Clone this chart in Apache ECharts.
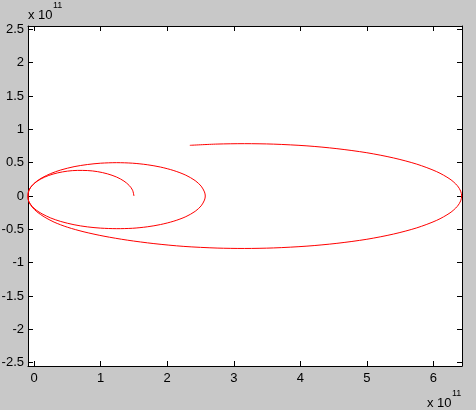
<!DOCTYPE html>
<html>
<head>
<meta charset="utf-8">
<script src="https://cdn.jsdelivr.net/npm/echarts@6/dist/echarts.min.js"></script>
<style>
html,body{margin:0;padding:0;background:#c8c8c8;}
#chart{width:476px;height:410px;}
</style>
</head>
<body>
<div id="chart"></div>
<script>
// Trajectory, in units of 1e11 (x, y pairs), in drawing order
var innerArc = [[1.50,0.00],[1.48,0.086],[1.43,0.157],[1.35,0.224],[1.24,0.284],[1.10,0.333],[0.95,0.366],[0.80,0.382],[0.65,0.384],[0.50,0.373],[0.35,0.346],[0.22,0.308],[0.10,0.255],[0.01,0.195],[-0.05,0.134],[-0.08,0.074],[-0.092,0.00]];
var middleLower = [[-0.088,-0.055],[-0.07,-0.100],[-0.03,-0.154],[0.03,-0.210],[0.12,-0.268],[0.25,-0.330],[0.40,-0.382],[0.60,-0.431],[0.80,-0.463],[1.00,-0.482],[1.24,-0.490],[1.48,-0.484],[1.70,-0.462],[1.90,-0.428],[2.10,-0.377],[2.28,-0.310],[2.42,-0.230],[2.51,-0.148],[2.56,-0.061],[2.572,0.00]];
var middleUpper = [[2.56,0.061],[2.51,0.148],[2.42,0.231],[2.28,0.312],[2.10,0.381],[1.90,0.434],[1.70,0.469],[1.48,0.492],[1.24,0.500],[1.00,0.492],[0.80,0.472],[0.60,0.440],[0.40,0.390],[0.25,0.337],[0.12,0.274],[0.03,0.214],[-0.03,0.157],[-0.07,0.102],[-0.088,0.055],[-0.092,0.00]];
var outerLower = [[-0.088,-0.056],[-0.07,-0.106],[-0.03,-0.166],[0.04,-0.236],[0.15,-0.312],[0.30,-0.392],[0.50,-0.468],[0.75,-0.538],[1.05,-0.603],[1.40,-0.662],[1.80,-0.714],[2.25,-0.756],[2.75,-0.781],[3.16,-0.787],[3.60,-0.779],[4.10,-0.752],[4.55,-0.710],[5.00,-0.649],[5.40,-0.571],[5.75,-0.478],[6.05,-0.365],[6.25,-0.253],[6.36,-0.155],[6.41,-0.073],[6.425,0.00]];
var outerUpper = [[6.41,0.073],[6.36,0.155],[6.25,0.253],[6.05,0.365],[5.75,0.478],[5.40,0.571],[5.00,0.649],[4.55,0.710],[4.10,0.752],[3.60,0.778],[3.16,0.785],[2.75,0.779],[2.34,0.760]];

var xRange = [-0.092, 6.43];
var yRange = [-2.55, 2.55];
var multiplierText = 'x 10';
var exponentText = '11';

var trajectory = [].concat(innerArc, middleLower, middleUpper, outerLower, outerUpper);

var FONT = 'Liberation Sans, Arial, sans-serif';

function isMult(v, step) {
  var r = v / step;
  return Math.abs(r - Math.round(r)) < 1e-6;
}
function fmt(v) {
  return String(Math.round(v * 100) / 100);
}

function xAxisDef(pos, showLabel) {
  return {
    type: 'value', position: pos, min: xRange[0], max: xRange[1], splitNumber: 5,
    axisLine: { show: true, onZero: false, lineStyle: { color: '#000', width: 1 } },
    axisTick: { show: true, inside: true, length: 5, lineStyle: { color: '#000', width: 1 } },
    axisLabel: { show: showLabel, color: '#000', fontSize: 13, fontFamily: FONT, margin: 6,
      formatter: function (v) { return isMult(v, 1) ? fmt(v) : ''; } },
    splitLine: { show: false }
  };
}
function yAxisDef(pos, showLabel) {
  return {
    type: 'value', position: pos, min: yRange[0], max: yRange[1], splitNumber: 10,
    axisLine: { show: true, onZero: false, lineStyle: { color: '#000', width: 1 } },
    axisTick: { show: true, inside: true, length: 5, lineStyle: { color: '#000', width: 1 } },
    axisLabel: { show: showLabel, color: '#000', fontSize: 13, fontFamily: FONT, margin: 4,
      formatter: function (v) { return isMult(v, 0.5) ? fmt(v) : ''; } },
    splitLine: { show: false }
  };
}

var chart = echarts.init(document.getElementById('chart'), null, { renderer: 'canvas' });
chart.setOption({
  animation: false,
  backgroundColor: '#c8c8c8',
  grid: { left: 28, top: 26, right: 14, bottom: 44, show: true, backgroundColor: '#ffffff', borderWidth: 0, containLabel: false, outerBoundsMode: 'none' },
  xAxis: [xAxisDef('bottom', true), xAxisDef('top', false)],
  yAxis: [yAxisDef('left', true), yAxisDef('right', false)],
  graphic: [
    { type: 'text', left: 28, top: 9, style: { text: multiplierText, font: '13px ' + FONT, fill: '#000' } },
    { type: 'text', left: 53, top: 1, style: { text: exponentText, font: '9px ' + FONT, fill: '#000' } },
    { type: 'text', left: 427, top: 397, style: { text: multiplierText, font: '13px ' + FONT, fill: '#000' } },
    { type: 'text', left: 452, top: 389, style: { text: exponentText, font: '9px ' + FONT, fill: '#000' } }
  ],
  series: [{
    type: 'line',
    xAxisIndex: 0, yAxisIndex: 0,
    data: trajectory,
    showSymbol: false,
    smooth: 0.3,
    lineStyle: { color: '#ff0000', width: 1 }
  }]
});
</script>
</body>
</html>
